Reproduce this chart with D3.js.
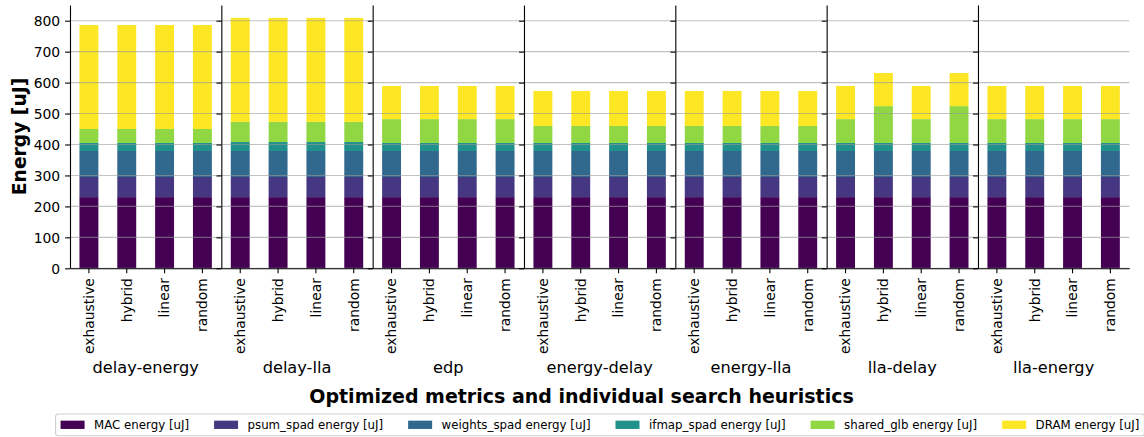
<!DOCTYPE html>
<html>
<head>
<meta charset="utf-8">
<script src="https://cdn.jsdelivr.net/npm/d3@7"></script>
<style>
  body { margin: 0; background: #fff; }
  svg { display: block; }
  text { font-family: "DejaVu Sans", sans-serif; fill: #000; }
</style>
</head>
<body>
<svg id="chart" width="1144" height="437"></svg>
<script>
// Optimized metric groups and the search heuristics run for each
const metrics = ["delay-energy", "delay-lla", "edp", "energy-delay", "energy-lla", "lla-delay", "lla-energy"];
const heuristics = ["exhaustive", "hybrid", "linear", "random"];
const seriesNames = ["MAC energy [uJ]", "psum_spad energy [uJ]", "weights_spad energy [uJ]",
                     "ifmap_spad energy [uJ]", "shared_glb energy [uJ]", "DRAM energy [uJ]"];

// Energy per component, ordered metric by metric, heuristics inside (uJ)
const macEnergy = [230, 230, 230, 230,  230, 230, 230, 230,  230, 230, 230, 230,  230, 230, 230, 230,
                   230, 230, 230, 230,  230, 230, 230, 230,  230, 230, 230, 230];
const psumEnergy = [65, 65, 65, 65,  65, 65, 65, 65,  65, 65, 65, 65,  65, 65, 65, 65,
                    65, 65, 65, 65,  65, 65, 65, 65,  65, 65, 65, 65];
const weightsEnergy = [84, 84, 84, 84,  84, 84, 84, 84,  84, 84, 84, 84,  84, 84, 84, 84,
                       84, 84, 84, 84,  84, 84, 84, 84,  84, 84, 84, 84];
const ifmapEnergy = [26, 26, 26, 26,  29, 29, 29, 29,  26, 26, 26, 26,  26, 26, 26, 26,
                     26, 26, 26, 26,  26, 26, 26, 26,  26, 26, 26, 26];
const glbEnergy = [45, 45, 45, 45,  65, 65, 65, 65,  77, 77, 77, 77,  55, 55, 55, 55,
                   55, 55, 55, 55,  77, 119, 77, 119,  77, 77, 77, 77];
const dramEnergy = [336, 336, 336, 336,  336, 336, 336, 336,  107, 107, 107, 107,  113, 113, 113, 113,
                    113, 113, 113, 113,  107, 107, 107, 107,  107, 107, 107, 107];

const yTicks = [0, 100, 200, 300, 400, 500, 600, 700, 800];
const yMax = 850.7;

const seriesValues = [macEnergy, psumEnergy, weightsEnergy, ifmapEnergy, glbEnergy, dramEnergy];
const seriesColors = ["#440154", "#453781", "#31688e", "#21918c", "#90d743", "#fde725"];

// Table rows for the stack layout
const rows = [];
metrics.forEach((m, i) => {
  heuristics.forEach((h, j) => {
    const row = { metric: m, heuristic: h };
    seriesNames.forEach((s, k) => { row[s] = seriesValues[k][i * heuristics.length + j]; });
    rows.push(row);
  });
});

const plotLeft = 70, plotRight = 1129.3, plotTop = 5, plotBottom = 268.3;
const tickLen = 4.9, tickPad = 4.9, tickFont = 13.9;

const svg = d3.select("#chart");

const y = d3.scaleLinear().domain([0, yMax]).range([plotBottom, plotTop]);
const outer = d3.scaleBand().domain(metrics).range([plotLeft, plotRight]).padding(0);
const panelW = outer.bandwidth();
const inner = d3.scaleBand().domain(heuristics).range([0, panelW]).paddingInner(0.5).paddingOuter(0.25);
const color = d3.scaleOrdinal().domain(seriesNames).range(seriesColors);

const stacked = d3.stack().keys(seriesNames)(rows);

// Stacked bars
const barLayer = svg.append("g");
stacked.forEach(layer => {
  barLayer.append("g")
    .attr("fill", color(layer.key))
    .selectAll("rect")
    .data(layer)
    .join("rect")
      .attr("x", d => outer(d.data.metric) + inner(d.data.heuristic))
      .attr("width", inner.bandwidth())
      .attr("y", d => y(d[1]))
      .attr("height", d => y(d[0]) - y(d[1]));
});

// Horizontal grid, drawn over the bars
svg.append("g")
  .selectAll("line")
  .data(yTicks)
  .join("line")
    .attr("x1", plotLeft).attr("x2", plotRight)
    .attr("y1", d => y(d)).attr("y2", d => y(d))
    .attr("stroke", "#999")
    .attr("stroke-opacity", 0.6)
    .attr("stroke-width", 1.1);

// One panel per metric: left spine with y ticks, bottom spine with heuristic ticks
metrics.forEach((m, i) => {
  const g = svg.append("g").attr("transform", `translate(${outer(m)},0)`);

  const yAxis = d3.axisLeft(y).tickValues(yTicks).tickSize(tickLen).tickSizeOuter(0).tickPadding(tickPad);
  if (i > 0) yAxis.tickFormat("");
  const ya = g.append("g").call(yAxis);
  ya.attr("font-family", null).attr("font-size", null);
  ya.selectAll("path, line").attr("stroke", "#000").attr("stroke-width", 1.1);
  ya.selectAll("text").style("font-size", tickFont + "px").attr("dy", "0.35em");

  const xa = g.append("g")
    .attr("transform", `translate(0,${plotBottom})`)
    .call(d3.axisBottom(inner).tickSize(tickLen).tickSizeOuter(0));
  xa.attr("font-family", null).attr("font-size", null);
  xa.selectAll("path, line").attr("stroke", "#000").attr("stroke-width", 1.1);
  xa.selectAll("text")
    .style("font-size", tickFont + "px")
    .attr("transform", "rotate(-90)")
    .attr("text-anchor", "end")
    .attr("x", -(tickLen + tickPad))
    .attr("y", 0)
    .attr("dy", "0.35em");

  g.append("text")
    .attr("x", panelW / 2)
    .attr("y", 373)
    .attr("text-anchor", "middle")
    .style("font-size", "16.2px")
    .text(m);
});

// Axis titles
svg.append("text")
  .attr("x", 581.5)
  .attr("y", 403)
  .attr("text-anchor", "middle")
  .style("font-size", "19px")
  .style("font-weight", "bold")
  .text("Optimized metrics and individual search heuristics");

svg.append("text")
  .attr("transform", "translate(19,136.5) rotate(-90)")
  .attr("text-anchor", "middle")
  .attr("dy", "0.35em")
  .style("font-size", "18.7px")
  .style("font-weight", "bold")
  .text("Energy [uJ]");

// Legend in a single row, centred under the panels
const legFont = 11.8;
const handleW = 24, handleH = 8.3, handlePad = 0.8 * legFont, colGap = 25;
const legendG = svg.append("g");
const legendBox = legendG.append("rect");
const items = legendG.selectAll("g.item")
  .data(seriesNames)
  .join("g")
  .attr("class", "item");
items.append("rect")
  .attr("width", handleW).attr("height", handleH)
  .attr("y", -handleH / 2)
  .attr("fill", d => color(d));
items.append("text")
  .attr("x", handleW + handlePad)
  .attr("dy", "0.35em")
  .style("font-size", legFont + "px")
  .text(d => d);

let cursor = 0;
items.each(function () {
  const w = d3.select(this).select("text").node().getComputedTextLength();
  d3.select(this).attr("data-x", cursor);
  cursor += handleW + handlePad + w + colGap;
});
const contentW = cursor - colGap;
const legCenter = 600;
const legY = 424.8;
const startX = legCenter - contentW / 2;
items.attr("transform", function () {
  return `translate(${startX + (+d3.select(this).attr("data-x"))},${legY})`;
});
const padX = 5, boxTop = 414, boxH = 21.7;
legendBox
  .attr("x", startX - padX)
  .attr("y", boxTop)
  .attr("width", contentW + 2 * padX)
  .attr("height", boxH)
  .attr("rx", 2.5)
  .attr("fill", "#fff")
  .attr("fill-opacity", 0.8)
  .attr("stroke", "#d0d0d0")
  .attr("stroke-width", 1.1);
</script>
</body>
</html>
